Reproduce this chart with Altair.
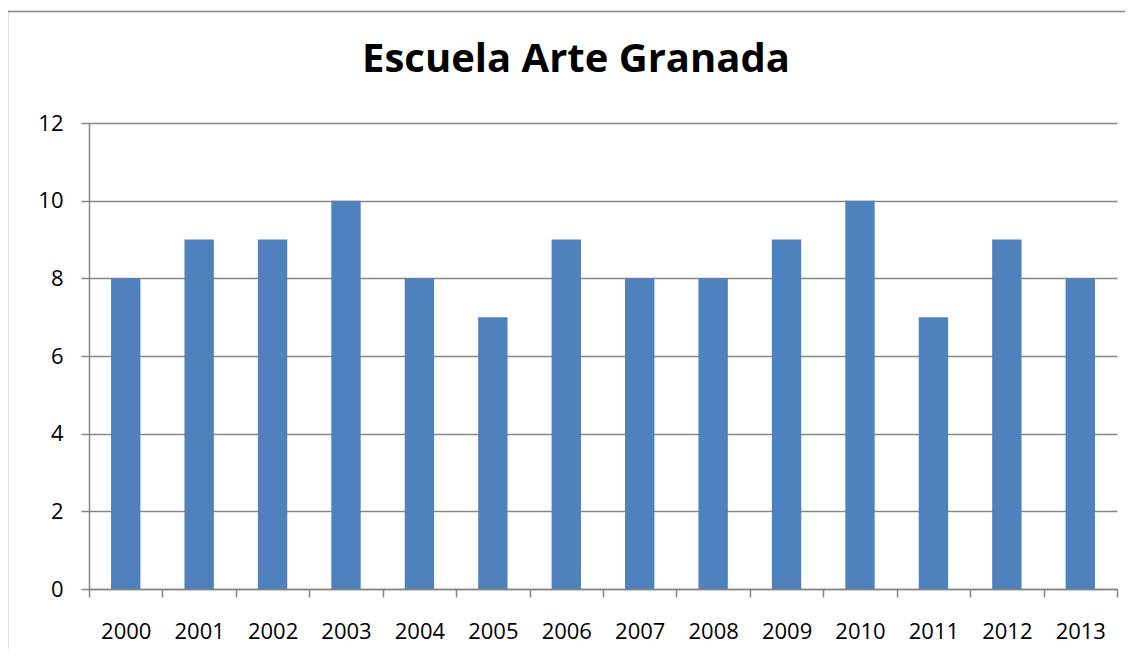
import altair as alt
import pandas as pd

years = ["2000", "2001", "2002", "2003", "2004", "2005", "2006",
         "2007", "2008", "2009", "2010", "2011", "2012", "2013"]
values = [8, 9, 9, 10, 8, 7, 9, 8, 8, 9, 10, 7, 9, 8]
title_text = ["Escuela Arte Granada"]

df = pd.DataFrame({"year": years, "value": values})
tdf = pd.DataFrame({"t": title_text})

GRAY = "#868686"
FONT = "Open Sans"

bars = alt.Chart(df).mark_bar(color="#4F81BD", width={"band": 0.4}).encode(
    x=alt.X("year:N", sort=years, title=None,
            scale=alt.Scale(paddingInner=0, paddingOuter=0),
            axis=alt.Axis(labelAngle=0, tickBand="extent", domainColor=GRAY,
                          tickColor=GRAY, tickSize=8, labelPadding=24,
                          labelFont=FONT, labelFontSize=22, labelColor="black",
                          grid=False, domainWidth=1.5, tickWidth=1.5)),
    y=alt.Y("value:Q", title=None,
            scale=alt.Scale(domain=[0, 12], nice=False),
            axis=alt.Axis(values=[0, 2, 4, 6, 8, 10, 12], grid=True,
                          gridColor=GRAY, gridWidth=1.5, domainColor=GRAY,
                          domainWidth=1.5, tickColor=GRAY, tickWidth=1.5,
                          tickSize=8, labelPadding=18, labelFont=FONT,
                          labelFontSize=22, labelColor="black")),
)

left_edge = alt.Chart(tdf).mark_rule(color=GRAY, strokeWidth=1.5).encode(
    x=alt.value(-81.5), y=alt.value(-111.5), y2=alt.value(600),
)
top_edge = alt.Chart(tdf).mark_rule(color=GRAY, strokeWidth=1.5).encode(
    x=alt.value(-81.5), x2=alt.value(1100), y=alt.value(-111.5),
)

title = alt.Chart(tdf).mark_text(
    font=FONT, fontSize=40, fontWeight="bold", color="black",
    align="center", baseline="alphabetic",
).encode(x=alt.value(487), y=alt.value(-51), text="t:N")

chart = alt.layer(left_edge, top_edge, bars, title).properties(
    width=1028,
    height=466,
    autosize=alt.AutoSizeParams(type="none"),
    padding={"left": 81, "top": 115, "right": 8, "bottom": 60},
).configure_view(stroke=None)

chart.save("out.html", embed_options={"renderer": "svg", "actions": False})
